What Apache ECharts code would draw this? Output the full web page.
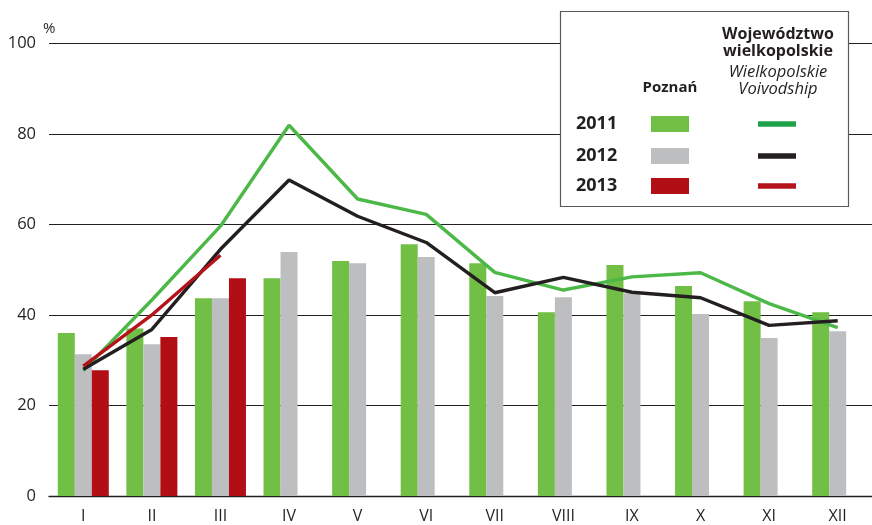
<!DOCTYPE html>
<html><head><meta charset="utf-8">
<script src="https://cdn.jsdelivr.net/npm/echarts@6/dist/echarts.min.js"></script>
<style>html,body{margin:0;padding:0;background:#fff}#c{width:872px;height:525px}</style>
</head><body><div id="c"></div>
<script>
const months = ['I','II','III','IV','V','VI','VII','VIII','IX','X','XI','XII'];
const yTicks = [0,20,40,60,80,100];
const poznan2011 = [36.0,37.0,43.7,48.1,51.9,55.6,51.4,40.6,51.0,46.4,43.0,40.6];
const poznan2012 = [31.3,33.5,43.7,53.9,51.4,52.8,44.2,43.9,44.8,40.2,34.9,36.4];
const poznan2013 = [27.8,35.1,48.1,null,null,null,null,null,null,null,null,null];
const woj2011 = [27.7,43.3,59.6,81.9,65.6,62.2,49.4,45.5,48.4,49.3,42.5,37.2];
const woj2012 = [28.0,36.8,54.5,69.8,61.8,56.0,44.9,48.3,45.0,43.8,37.7,38.7];
const woj2013 = [28.7,40.0,53.2,null,null,null,null,null,null,null,null,null];
const years = ['2011','2012','2013'];

const FONT = '"Open Sans", "Noto Sans", sans-serif';
const barColors = ['#71bf44','#bcbec0','#b20e16'];
const lineColors = ['#4cb848','#231f20','#b5121b'];
const legendLineColors = ['#1fa34a','#231f20','#b5121b'];

const chart = echarts.init(document.getElementById('c'), null, {renderer:'canvas'});
const barSeries = [poznan2011, poznan2012, poznan2013].map((d,i)=>({
  type:'bar', name:'Poznań '+years[i], data:d, barWidth:17, barGap:'0%',
  itemStyle:{color:barColors[i]}, z:2, silent:true
}));
const lineSeries = [woj2011, woj2012, woj2013].map((d,i)=>({
  type:'line', name:'Wielkopolskie '+years[i], data:d, symbol:'none',
  lineStyle:{color:lineColors[i], width:3.4}, z:3, silent:true, connectNulls:false
}));

const lg = [];
lg.push({type:'rect', shape:{x:560.5,y:11.5,width:288,height:195}, style:{fill:'#fff',stroke:'#58595b',lineWidth:1.2}, z:100});
lg.push({type:'text', x:778, y:34, style:{text:'Województwo', font:'bold 16px '+FONT, fill:'#231f20', align:'center', verticalAlign:'middle'}, z:101});
lg.push({type:'text', x:778, y:51, style:{text:'wielkopolskie', font:'bold 16px '+FONT, fill:'#231f20', align:'center', verticalAlign:'middle'}, z:101});
lg.push({type:'text', x:778, y:72, style:{text:'Wielkopolskie', font:'italic 16.5px '+FONT, fill:'#231f20', align:'center', verticalAlign:'middle'}, z:101});
lg.push({type:'text', x:778, y:89, style:{text:'Voivodship', font:'italic 16.5px '+FONT, fill:'#231f20', align:'center', verticalAlign:'middle'}, z:101});
lg.push({type:'text', x:670, y:88, style:{text:'Poznań', font:'bold 15px '+FONT, fill:'#231f20', align:'center', verticalAlign:'middle'}, z:101});
const rowY = [124,156,186];
years.forEach((y,i)=>{
  lg.push({type:'text', x:576, y:rowY[i], style:{text:y, font:'bold 18px '+FONT, fill:'#231f20', align:'left', verticalAlign:'middle'}, z:101});
  lg.push({type:'rect', shape:{x:651,y:rowY[i]-8,width:38,height:16}, style:{fill:barColors[i]}, z:101});
  lg.push({type:'rect', shape:{x:758,y:rowY[i]-2.7,width:38,height:5.4}, style:{fill:legendLineColors[i]}, z:101});
});
lg.push({type:'text', x:43, y:29, style:{text:'%', font:'15px '+FONT, fill:'#231f20', align:'left', verticalAlign:'middle'}, z:101});

chart.setOption({
  animation:false,
  backgroundColor:'#fff',
  grid:{left:49, top:43.3, width:828, height:452.7, containLabel:false},
  xAxis:{type:'category', data:months, boundaryGap:true,
    axisLine:{show:true, lineStyle:{color:'#231f20', width:1.3}},
    axisTick:{show:false},
    axisLabel:{color:'#231f20', fontSize:16, fontFamily:FONT, margin:12}},
  yAxis:{type:'value', min:yTicks[0], max:yTicks[yTicks.length-1], interval:20,
    axisLine:{show:false}, axisTick:{show:false},
    axisLabel:{color:'#231f20', fontSize:16.5, fontFamily:FONT, margin:13},
    splitLine:{show:true, lineStyle:{color:'#231f20', width:1.1}}},
  series:[...barSeries, ...lineSeries],
  graphic:lg
});
</script></body></html>
